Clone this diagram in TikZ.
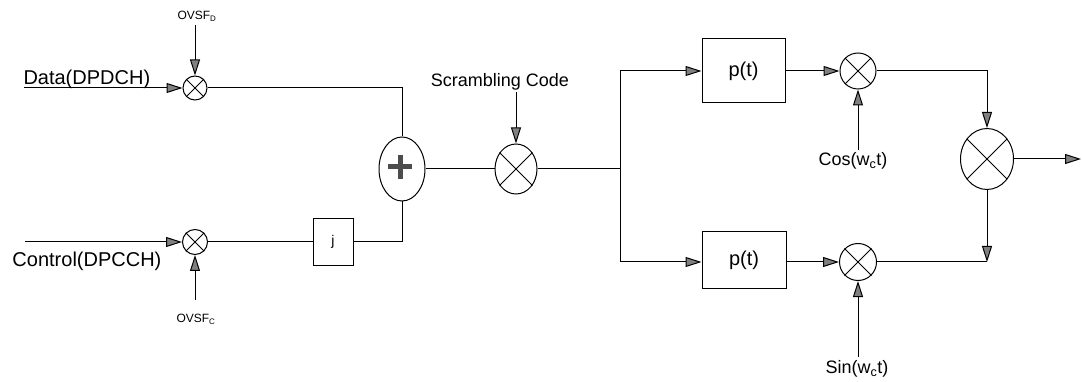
\documentclass[tikz,border=0pt]{standalone}
\usepackage{fontspec}
\setmainfont{Liberation Sans}
\usetikzlibrary{arrows.meta,shapes.geometric}
\begin{document}
\begin{tikzpicture}[x=1pt,y=-1pt,line width=1pt,
  arr/.style={-{Triangle[length=16pt,width=10pt,fill=gray]}},
  mixer/.style={draw,ellipse,inner sep=0pt},
  blk/.style={draw,rectangle,inner sep=0pt},
  big/.style={font=\fontsize{20}{22}\selectfont,inner sep=0pt},
  mid/.style={font=\fontsize{18}{20}\selectfont,inner sep=0pt},
  tiny/.style={font=\fontsize{12}{13}\selectfont,inner sep=0pt}]
\useasboundingbox (0,0) rectangle (1082,382);
% mixers and blocks
\node[mixer,minimum width=24pt,minimum height=24pt] (dm) at (195,88) {};
\node[mixer,minimum width=25pt,minimum height=25pt] (cm) at (195,242) {};
\node[mixer,minimum width=46pt,minimum height=64pt] (plus) at (402,169) {};
\node[mixer,minimum width=42pt,minimum height=50pt] (sc) at (516,169) {};
\node[blk,minimum width=40pt,minimum height=47pt,font=\fontsize{14}{15}\selectfont] (jbox) at (333,242) {j};
\node[blk,minimum width=83pt,minimum height=64pt,font=\fontsize{20}{22}\selectfont] (pt1) at (743.5,71) {p(t)};
\node[blk,minimum width=84pt,minimum height=56pt,font=\fontsize{20}{22}\selectfont] (pt2) at (744,260) {p(t)};
\node[mixer,minimum width=36pt,minimum height=36pt] (cosm) at (858,71) {};
\node[mixer,minimum width=37pt,minimum height=37pt] (sinm) at (858,262) {};
\node[mixer,minimum width=53pt,minimum height=61pt] (comb) at (987,159) {};
% crosses
\foreach \m in {dm,cm,sc,cosm,sinm,comb}{
  \draw (\m.45) -- (\m.225) (\m.135) -- (\m.315);
}
% plus sign
\draw[gray!60!black,line width=5pt] (388,167) -- (412,167) (400,155) -- (400,179);
% labels
\node[big,anchor=base west] (dtxt) at (23,85) {Data(DPDCH)};
\node[big,anchor=base west] (ctxt) at (12,267) {Control(DPCCH)};
\node[tiny] (ovd) at (197,16) {OVSF\textsubscript{D}};
\node[tiny] (ovc) at (196,319) {OVSF\textsubscript{C}};
\node[mid] (sctxt) at (500,82) {Scrambling Code};
\node[mid] (costxt) at (853,161) {Cos(w\textsubscript{c}t)};
\node[mid] (sintxt) at (857,369) {Sin(w\textsubscript{c}t)};
% free ends
\coordinate (din) at (24,88);
\coordinate (cin) at (25,242);
\coordinate (ovdS) at (195,25);
\coordinate (ovcS) at (195,300);
\coordinate (scS) at (516,92);
\coordinate (split) at (620,169);
\coordinate (cosS) at (858,150);
\coordinate (sinS) at (858,357);
\coordinate (corner) at (987,262);
\coordinate (out) at (1081,159);
% connectors
\draw[arr] (din) -- (dm.west);
\draw[arr] (ovdS) -- (dm.north);
\draw[arr] (cin) -- (cm.west);
\draw[arr] (ovcS) -- (cm.south);
\draw (dm.east) -| (plus.north);
\draw (cm.east) -- (jbox.west);
\draw (jbox.east) -| (plus.south);
\draw (plus.east) -- (sc.west);
\draw[arr] (scS) -- (sc.north);
\draw (sc.east) -- (split);
\draw[arr] (split) |- (pt1.west);
\draw[arr] (split) |- (pt2.west |- sinm);
\draw[arr] (pt1.east) -- (cosm.west);
\draw[arr] (pt2.east |- sinm) -- (sinm.west);
\draw[arr] (cosS) -- (cosm.south);
\draw[arr] (sinS) -- (sinm.south);
\draw[arr] (cosm.east) -| (comb.north);
\draw (sinm.east) -- (corner);
\draw[arr] (comb.south) -- (corner);
\draw[arr] (comb.east) -- (out);
\end{tikzpicture}
\end{document}
